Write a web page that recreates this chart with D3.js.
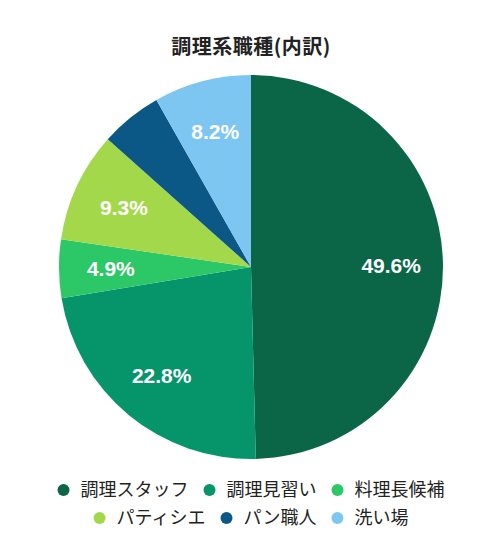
<!DOCTYPE html>
<html>
<head>
<meta charset="utf-8">
<script src="https://cdn.jsdelivr.net/npm/d3@7"></script>
<style>
  body { margin: 0; background: #fff; }
</style>
</head>
<body>
<div id="chart"></div>
<script>
const categories = ["調理スタッフ", "調理見習い", "料理長候補", "パティシエ", "パン職人", "洗い場"];
const values = [49.6, 22.8, 4.9, 9.3, 5.2, 8.2];
const labels = ["49.6%", "22.8%", "4.9%", "9.3%", "", "8.2%"];
const colors = ["#0a6647", "#06956a", "#2cc767", "#a3d84b", "#0b5886", "#7dc6f2"];

const w = 502;
const h = 553;
const cx = 251, cy = 267, r = 192;
const jp = "'Noto Sans CJK JP', sans-serif";

const svg = d3.select("#chart")
    .append("svg")
    .attr("width", w)
    .attr("height", h);

svg.append("text")
    .text("調理系職種(内訳)")
    .attr("x", cx)
    .attr("y", 54)
    .attr("text-anchor", "middle")
    .style("font-family", jp)
    .style("font-weight", "bold")
    .style("font-size", "20px")
    .style("letter-spacing", "0.5px")
    .attr("fill", "#222");

const pie = d3.pie().sort(null).value(d => d);
const arcs = pie(values);
const arc = d3.arc().innerRadius(0).outerRadius(r);
const labelArc = d3.arc().innerRadius(r * 0.73).outerRadius(r * 0.73);

const g = svg.append("g").attr("transform", "translate(" + cx + "," + cy + ")");

g.selectAll("path")
    .data(arcs)
    .enter()
    .append("path")
    .attr("d", arc)
    .attr("fill", (d, i) => colors[i]);

g.selectAll(".label")
    .data(arcs)
    .enter()
    .append("text")
    .attr("class", "label")
    .attr("transform", d => "translate(" + labelArc.centroid(d) + ")")
    .attr("text-anchor", "middle")
    .attr("dy", "0.36em")
    .style("font-family", "'Liberation Sans', Arial, sans-serif")
    .style("font-weight", "bold")
    .style("font-size", "21px")
    .attr("fill", "#fff")
    .text((d, i) => labels[i]);

// legend, two centered rows
const rows = [[0, 1, 2], [3, 4, 5]];
const rowY = [490, 518];
const legend = svg.append("g");
rows.forEach((row, ri) => {
    const rg = legend.append("g");
    let x = 0;
    row.forEach((idx, k) => {
        const item = rg.append("g").attr("transform", "translate(" + x + ",0)");
        item.append("circle")
            .attr("cx", 6)
            .attr("cy", 0)
            .attr("r", 6)
            .attr("fill", colors[idx]);
        const t = item.append("text")
            .text(categories[idx])
            .attr("x", 23)
            .attr("dy", "0.36em")
            .style("font-family", jp)
            .style("font-size", "18px")
            .attr("fill", "#222");
        x += 23 + t.node().getComputedTextLength() + (k < row.length - 1 ? 15 : 0);
    });
    rg.attr("transform", "translate(" + (cx - x / 2) + "," + rowY[ri] + ")");
});
</script>
</body>
</html>
